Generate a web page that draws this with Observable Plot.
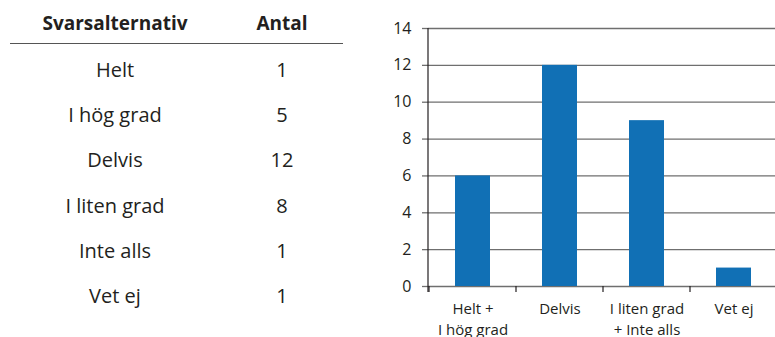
<!DOCTYPE html>
<html>
<head>
<meta charset="utf-8">
<script src="https://cdn.jsdelivr.net/npm/d3@7"></script>
<script src="https://cdn.jsdelivr.net/npm/@observablehq/plot@0.6"></script>
<style>
  body { margin: 0; background: #fff; font-family: "Open Sans", Lato, sans-serif; color: #231f20; }
  #wrap { position: relative; width: 775px; height: 337px; overflow: hidden; }
  #table { position: absolute; left: 10px; top: 0; width: 333px; height: 337px; }
  .cell { position: absolute; text-align: center; font-size: 20px; line-height: 24px; white-space: nowrap; }
  .head { font-weight: 700; font-size: 19px; }
  .rule { position: absolute; left: 0; width: 333px; height: 0; border-top: 1.5px solid #555; }
  #chart { position: absolute; left: 380px; top: 0; width: 398px; }
  #chart svg { max-width: none !important; }
</style>
</head>
<body>
<div id="wrap">
  <div id="table"></div>
  <div id="chart"></div>
</div>
<script>
// Survey answers, one row per option
const tableHeaders = ["Svarsalternativ", "Antal"];
const answerOptions = ["Helt", "I hög grad", "Delvis", "I liten grad", "Inte alls", "Vet ej"];
const answerCounts = [1, 5, 12, 8, 1, 1];

// Grouped answers shown as bars
const groupLabels = ["Helt +\nI hög grad", "Delvis", "I liten grad\n+ Inte alls", "Vet ej"];
const groupCounts = [6, 12, 9, 1];
const yTicks = [0, 2, 4, 6, 8, 10, 12, 14];

// ---- Table ----
const table = d3.select("#table");
const colCenters = [105, 272];
const colWidth = 200;
tableHeaders.forEach((h, j) => {
  table.append("div").attr("class", "cell head")
    .style("left", (colCenters[j] - colWidth / 2) + "px")
    .style("width", colWidth + "px")
    .style("top", (23 - 12) + "px")
    .text(h);
});
table.append("div").attr("class", "rule").style("top", "43px");
answerOptions.forEach((a, i) => {
  const top = 70 + i * 45.2 - 12;
  table.append("div").attr("class", "cell")
    .style("left", (colCenters[0] - colWidth / 2) + "px").style("width", colWidth + "px")
    .style("top", top + "px").text(a);
  table.append("div").attr("class", "cell")
    .style("left", (colCenters[1] - colWidth / 2) + "px").style("width", colWidth + "px")
    .style("top", top + "px").text(answerCounts[i]);
});

// ---- Bar chart ----
const bars = groupLabels.map((g, i) => ({group: g, count: groupCounts[i]}));

// Left axis line plus tick marks between the category bands
function bandFrame(index, scales, values, dims) {
  const g = d3.create("svg:g").attr("stroke", "#231f20").attr("stroke-width", 1.2);
  const bottom = dims.height - dims.marginBottom;
  const left = dims.marginLeft;
  groupLabels.forEach(d => {
    const e = scales.x(d);
    g.append("line").attr("x1", e).attr("x2", e).attr("y1", bottom).attr("y2", bottom + 6);
  });
  g.append("line").attr("x1", left).attr("x2", left)
    .attr("y1", dims.marginTop).attr("y2", bottom + 6);
  return g.node();
}

const chart = Plot.plot({
  width: 398,
  height: 337,
  marginLeft: 48,
  marginRight: 0,
  marginTop: 28,
  marginBottom: 51,
  style: {fontFamily: "'Open Sans', Lato, sans-serif", color: "#231f20", background: "transparent", overflow: "visible"},
  x: {domain: groupLabels, padding: 0, label: null},
  y: {domain: [0, 14], label: null},
  marks: [
    Plot.ruleY(yTicks, {stroke: "#6f6f6f", strokeWidth: 1.3}),
    Plot.axisY({ticks: yTicks, tickSize: 6, tickPadding: 11, stroke: "#6f6f6f", strokeWidth: 1.3, fontSize: 16, label: null}),
    Plot.barY(bars, {x: "group", y: "count", fill: "#1170b5", insetLeft: 26, insetRight: 26}),
    Plot.axisX({tickSize: 0, tickPadding: 13, fontSize: 15, lineHeight: 1.37, label: null}),
    bandFrame
  ]
});
document.getElementById("chart").appendChild(chart);
</script>
</body>
</html>
